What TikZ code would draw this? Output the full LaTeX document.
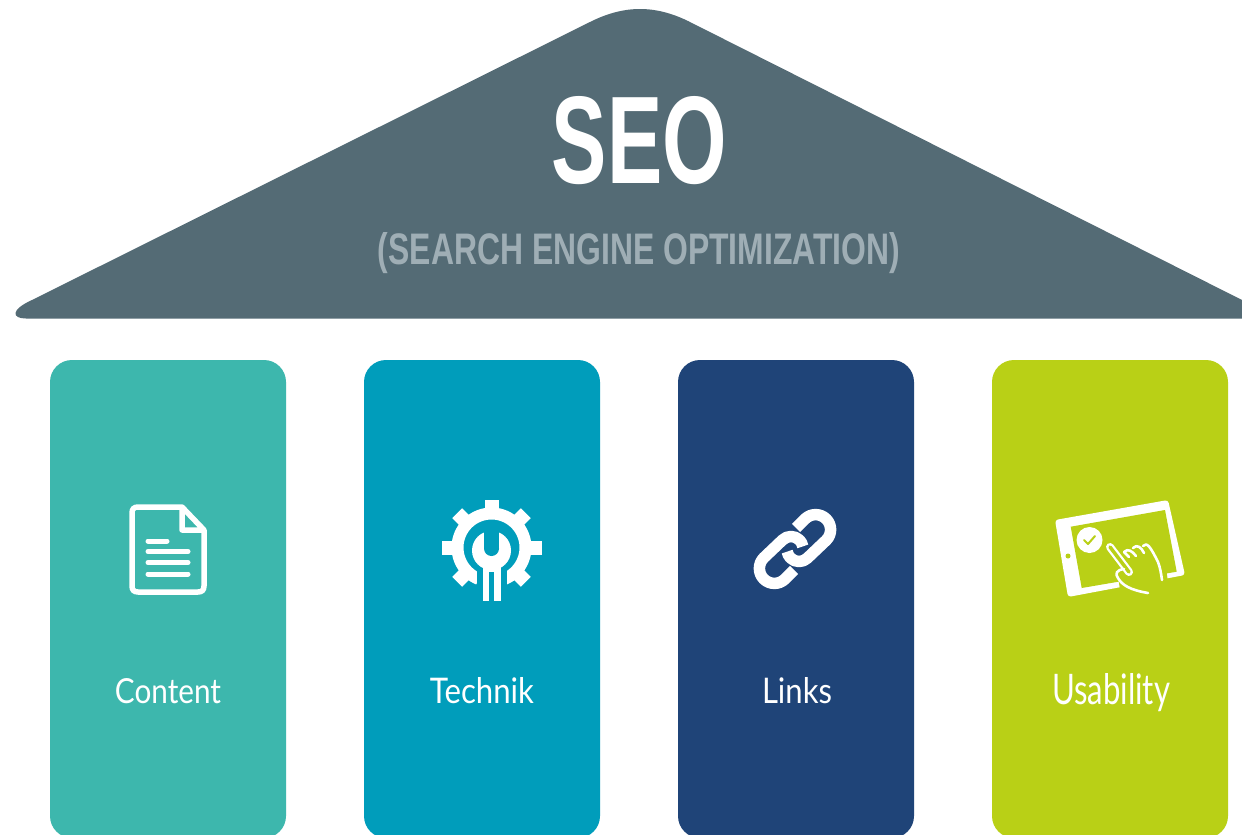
\documentclass[tikz,border=0pt]{standalone}
\usepackage{graphicx}
\usepackage{fontspec}
\setmainfont{Liberation Sans}
\newfontfamily\lightfont{Lato}
\definecolor{roofc}{HTML}{546B75}
\definecolor{subc}{HTML}{9FAEB5}
\definecolor{pa}{HTML}{3DB7AD}
\definecolor{pb}{HTML}{009DBB}
\definecolor{pc}{HTML}{1F4478}
\definecolor{pd}{HTML}{B9D016}
\tikzset{
  pillar/.style={fill=#1,draw=none,rounded corners=22pt},
  label/.style={text=white,inner sep=0pt,font=\lightfont},
  icon/.style={draw=white,line width=#1,line cap=round,line join=round},
}
\newcommand{\fitlab}[3]{\resizebox{#1pt}{#2pt}{#3}}
\begin{document}
\begin{tikzpicture}[x=1pt,y=-1pt]
\useasboundingbox (0,0) rectangle (1242,835);
\fill[white] (0,0) rectangle (1242,835);
% roof
\fill[roofc] (1242,318.5) -- (26,318.5) .. controls (12,318.5) and (10,310) .. (32,300)
  -- (592,21) .. controls (625,5) and (655,5) .. (688,21) -- (1242,300) -- cycle;
\node[inner sep=0pt,text=white] (seo) at (639.5,140.5) {\fitlab{175}{87}{\bfseries SEO}};
\node[inner sep=0pt,text=subc] (sub) at (639,253) {\fitlab{522}{32}{\bfseries (SEARCH ENGINE OPTIMIZATION)}};
% pillars
\begin{scope}
\clip (0,0) rectangle (1242,835);
\fill[pillar=pa] (50,360) rectangle (286,838);
\fill[pillar=pb] (364,360) rectangle (600,838);
\fill[pillar=pc] (678,360) rectangle (914,838);
\fill[pillar=pd] (992,360) rectangle (1228,838);
\end{scope}
\node[label] (content) at (168,691) {\fitlab{106}{25}{Content}};
\node[label] (technik) at (482,690.5) {\fitlab{104}{26}{Technik}};
\node[label] (links) at (797,690.5) {\fitlab{70}{26}{Links}};
\node[label] (usability) at (1111,692.5) {\fitlab{118}{31}{Usability}};
% document icon
\draw[icon=5.5pt] (182,507) -- (138,507) .. controls (134,507) and (132,509) .. (132,513)
  -- (132,586) .. controls (132,590) and (134,592) .. (138,592) -- (198,592)
  .. controls (202,592) and (204,590) .. (204,586) -- (204,530) -- (182,507) -- (182,530) -- (204,530);
\foreach \yy/\xe in {541/167,551.5/188,562.5/188,574/188}
  \draw[icon=5pt] (148,\yy) -- (\xe,\yy);
% gear icon
\begin{scope}[shift={(491.5,547.5)},y=1pt]
\draw[white,line width=12pt] (-68:34) arc[start angle=-68,end angle=248,radius=34pt];
\foreach \a/\rr in {0/50,45/48.5,90/47.5,135/48.5,180/50,225/48.5,315/48.5}
  \draw[white,line width=14pt] (\a:34) -- (\a:\rr);
\fill[pb] (-15,-54.5) rectangle (15,-20);
\fill[white] (-9,-53) rectangle (9,-10);
\fill[white] (0,-3) circle[radius=19.5pt];
\fill[pb] (-7.5,18) rectangle (7.5,-1) ;
\fill[pb] (0,-1) circle[radius=7.5pt];
\fill[pb] (-2.5,-53.5) rectangle (2.5,-24);
\end{scope}
% link icon
\foreach \r in {0,180}{
\begin{scope}[shift={(795,549)},y=1pt,rotate=\r]
\draw[white,line width=11.5pt,line join=round]
  (-1,-21) -- (-10,-30) arc[start angle=-45,end angle=-225,radius=15pt]
  -- (-12.5,9) arc[start angle=135,end angle=10,radius=12pt];
\end{scope}}
% tablet icon
\fill[white,rounded corners=3pt] (1055,520) -- (1168,500) -- (1185,575) -- (1068,597) -- cycle;
\fill[pd] (1070.7,526.7) -- (1165,510) -- (1176.7,571.7) -- (1081.7,588) -- cycle;
\fill[pd] (1120,590) -- (1168,582) -- (1166,568) -- (1118,576) -- cycle;
\fill[pd] (1068,556) circle[radius=2.5pt];
\fill[white] (1089.5,540) circle[radius=13pt];
\draw[pd,line width=2pt,line cap=round,line join=round] (1084,540) -- (1088,544) -- (1095,536);
\draw[white,line width=8pt,line cap=round] (1110,547) -- (1129,572);
\draw[pd,line width=3.5pt,line cap=round] (1110,547) -- (1129,572);
\draw[white,line width=2.6pt,line cap=round,line join=round]
  (1124,552) -- (1129,557) (1124,552) .. controls (1128,548) and (1132,551) .. (1136,556)
  (1133,548) .. controls (1137,544) and (1141,547) .. (1144,553)
  (1143,546) .. controls (1147,542) and (1150,546) .. (1158,562) .. controls (1160,567) and (1161,573) .. (1162,580)
  (1124,569) .. controls (1116,570) and (1115,574) .. (1118,578) .. controls (1122,585) and (1130,590) .. (1148,593);
\end{tikzpicture}
\end{document}
